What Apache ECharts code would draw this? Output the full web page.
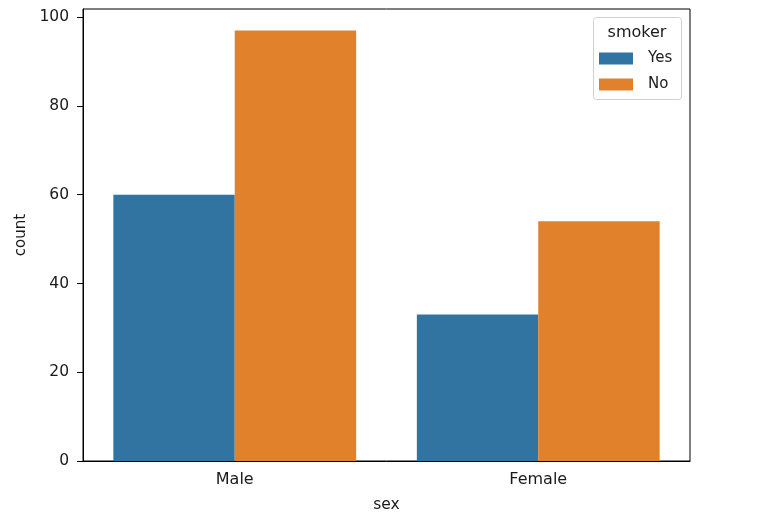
<!DOCTYPE html>
<html><head><meta charset="utf-8">
<script src="https://cdn.jsdelivr.net/npm/echarts@6/dist/echarts.min.js"></script>
<style>html,body{margin:0;padding:0;background:#fff}#c{width:768px;height:525px}</style>
</head><body><div id="c"></div>
<script>
const categories = ['Male', 'Female'];
const yesValues = [60, 33];
const noValues = [97, 54];
const seriesNames = ['Yes', 'No'];
const legendTitle = 'smoker';

const font = 'DejaVu Sans';
const txt = '#1a1a1a';
const chart = echarts.init(document.getElementById('c'), null, {renderer: 'canvas'});
const ymax = Math.max(...yesValues, ...noValues) * 1.05;
chart.setOption({
  animation: false,
  backgroundColor: '#fff',
  textStyle: {fontFamily: font},
  grid: {left: 83, right: 78, top: 9, bottom: 64, show: true, borderColor: '#000', borderWidth: 1, backgroundColor: 'transparent'},
  xAxis: {
    type: 'category', data: categories,
    name: 'sex', nameLocation: 'middle', nameGap: 36,
    nameTextStyle: {fontFamily: font, fontSize: 15.5, color: txt},
    axisLine: {lineStyle: {color: '#000', width: 1}},
    axisTick: {alignWithLabel: true, length: 6, lineStyle: {color: '#000'}},
    axisLabel: {fontFamily: font, fontSize: 16, color: txt, margin: 11}
  },
  yAxis: {
    type: 'value', min: 0, max: ymax, interval: 20,
    name: 'count', nameLocation: 'middle', nameGap: 53, nameRotate: 90,
    nameTextStyle: {fontFamily: font, fontSize: 15, color: txt},
    axisLine: {show: true, lineStyle: {color: '#000', width: 1}},
    axisTick: {show: true, length: 6, lineStyle: {color: '#000'}},
    splitLine: {show: false},
    axisLabel: {fontFamily: font, fontSize: 15.5, color: txt, margin: 14, showMaxLabel: false,
      formatter: v => (Math.abs(v % 20) < 1e-9 ? String(v) : '')}
  },
  legend: {
    orient: 'vertical', left: 599, top: 51, padding: 0,
    itemWidth: 34, itemHeight: 12, itemGap: 11, icon: 'rect',
    data: seriesNames,
    textStyle: {fontFamily: font, fontSize: 15, color: txt, padding: [0, 0, 0, 10]}
  },
  graphic: [
    {type: 'rect', left: 593, top: 17, shape: {width: 88, height: 82, r: 3}, style: {fill: '#fff', stroke: '#d0d0d0', lineWidth: 1}, z: -1, silent: true},
    {type: 'text', x: 637, y: 25, style: {text: legendTitle, fontFamily: font, fontSize: 16, fill: txt, textAlign: 'center'}}
  ],
  series: [
    {name: seriesNames[0], type: 'bar', data: yesValues, barGap: '0%', barCategoryGap: '20%', itemStyle: {color: '#3274A1'}},
    {name: seriesNames[1], type: 'bar', data: noValues, barGap: '0%', barCategoryGap: '20%', itemStyle: {color: '#E1812C'}}
  ]
});
</script></body></html>
